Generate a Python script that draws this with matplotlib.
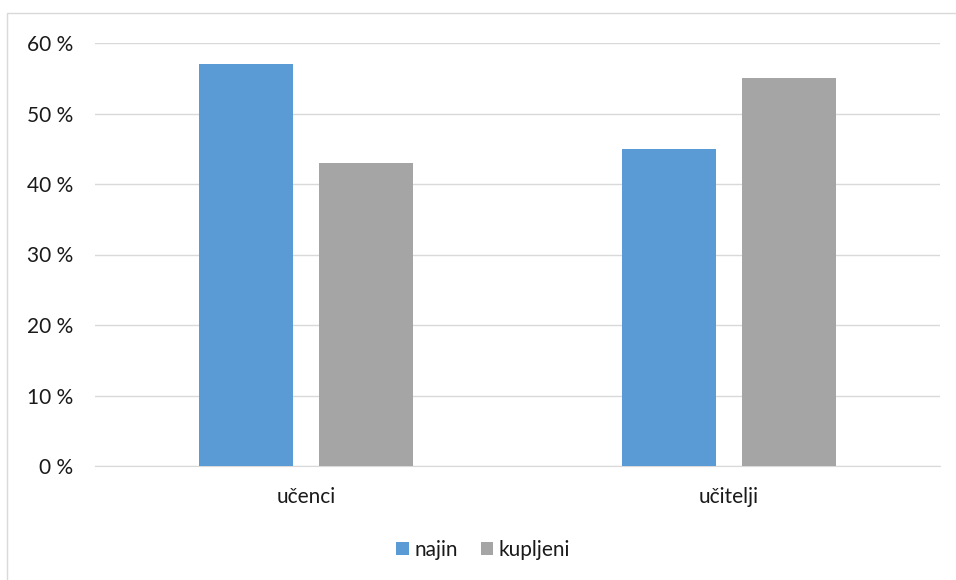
import matplotlib
matplotlib.use("Agg")
import matplotlib.pyplot as plt
from matplotlib.patches import Rectangle
import numpy as np

categories = ["učenci", "učitelji"]
series_names = ["najin", "kupljeni"]
najin = [57, 45]
kupljeni = [43, 55]
yticks = [0, 10, 20, 30, 40, 50, 60]
ytick_labels = ["0 %", "10 %", "20 %", "30 %", "40 %", "50 %", "60 %"]

plt.rcParams['font.family'] = ['Lato', 'DejaVu Sans']

W, H = 956, 580
fig = plt.figure(figsize=(W/100, H/100), dpi=100)
fig.patches.append(Rectangle((7/W, -0.1), 1.2, 1.1 - 13/H, transform=fig.transFigure,
                             fill=False, edgecolor='#D9D9D9', linewidth=1.0))

ax = fig.add_axes([95/W, 1 - 466/H, (940-95)/W, (466-43)/H])
x = np.arange(len(categories))
bw = 0.2225
gap = 26/422.5
off = (bw + gap) / 2
b1 = ax.bar(x - off, najin, bw, color='#5B9BD5', label=series_names[0], zorder=3)
b2 = ax.bar(x + off, kupljeni, bw, color='#A5A5A5', label=series_names[1], zorder=3)

ax.set_xlim(-0.5, len(categories) - 0.5)
ax.set_ylim(0, 60)
ax.set_yticks(yticks)
ax.set_yticklabels(ytick_labels)
ax.set_xticks(x)
ax.set_xticklabels(categories)
ax.grid(axis='y', color='#D9D9D9', linewidth=1.0, zorder=0)
for s in ['top', 'right', 'left']:
    ax.spines[s].set_visible(False)
ax.spines['bottom'].set_color('#D9D9D9')
ax.tick_params(axis='both', length=0, labelsize=15, colors='#1a1a1a')
ax.tick_params(axis='y', pad=16)
ax.tick_params(axis='x', pad=15)

fig.legend(handles=[b1, b2], labels=series_names, loc='center', bbox_to_anchor=(483/W, 1 - 550/H),
           ncol=2, frameon=False, fontsize=15, handlelength=0.6, handleheight=0.6,
           handletextpad=0.25, columnspacing=1.1, labelcolor='#1a1a1a')

fig.savefig("out.png", dpi=100)
